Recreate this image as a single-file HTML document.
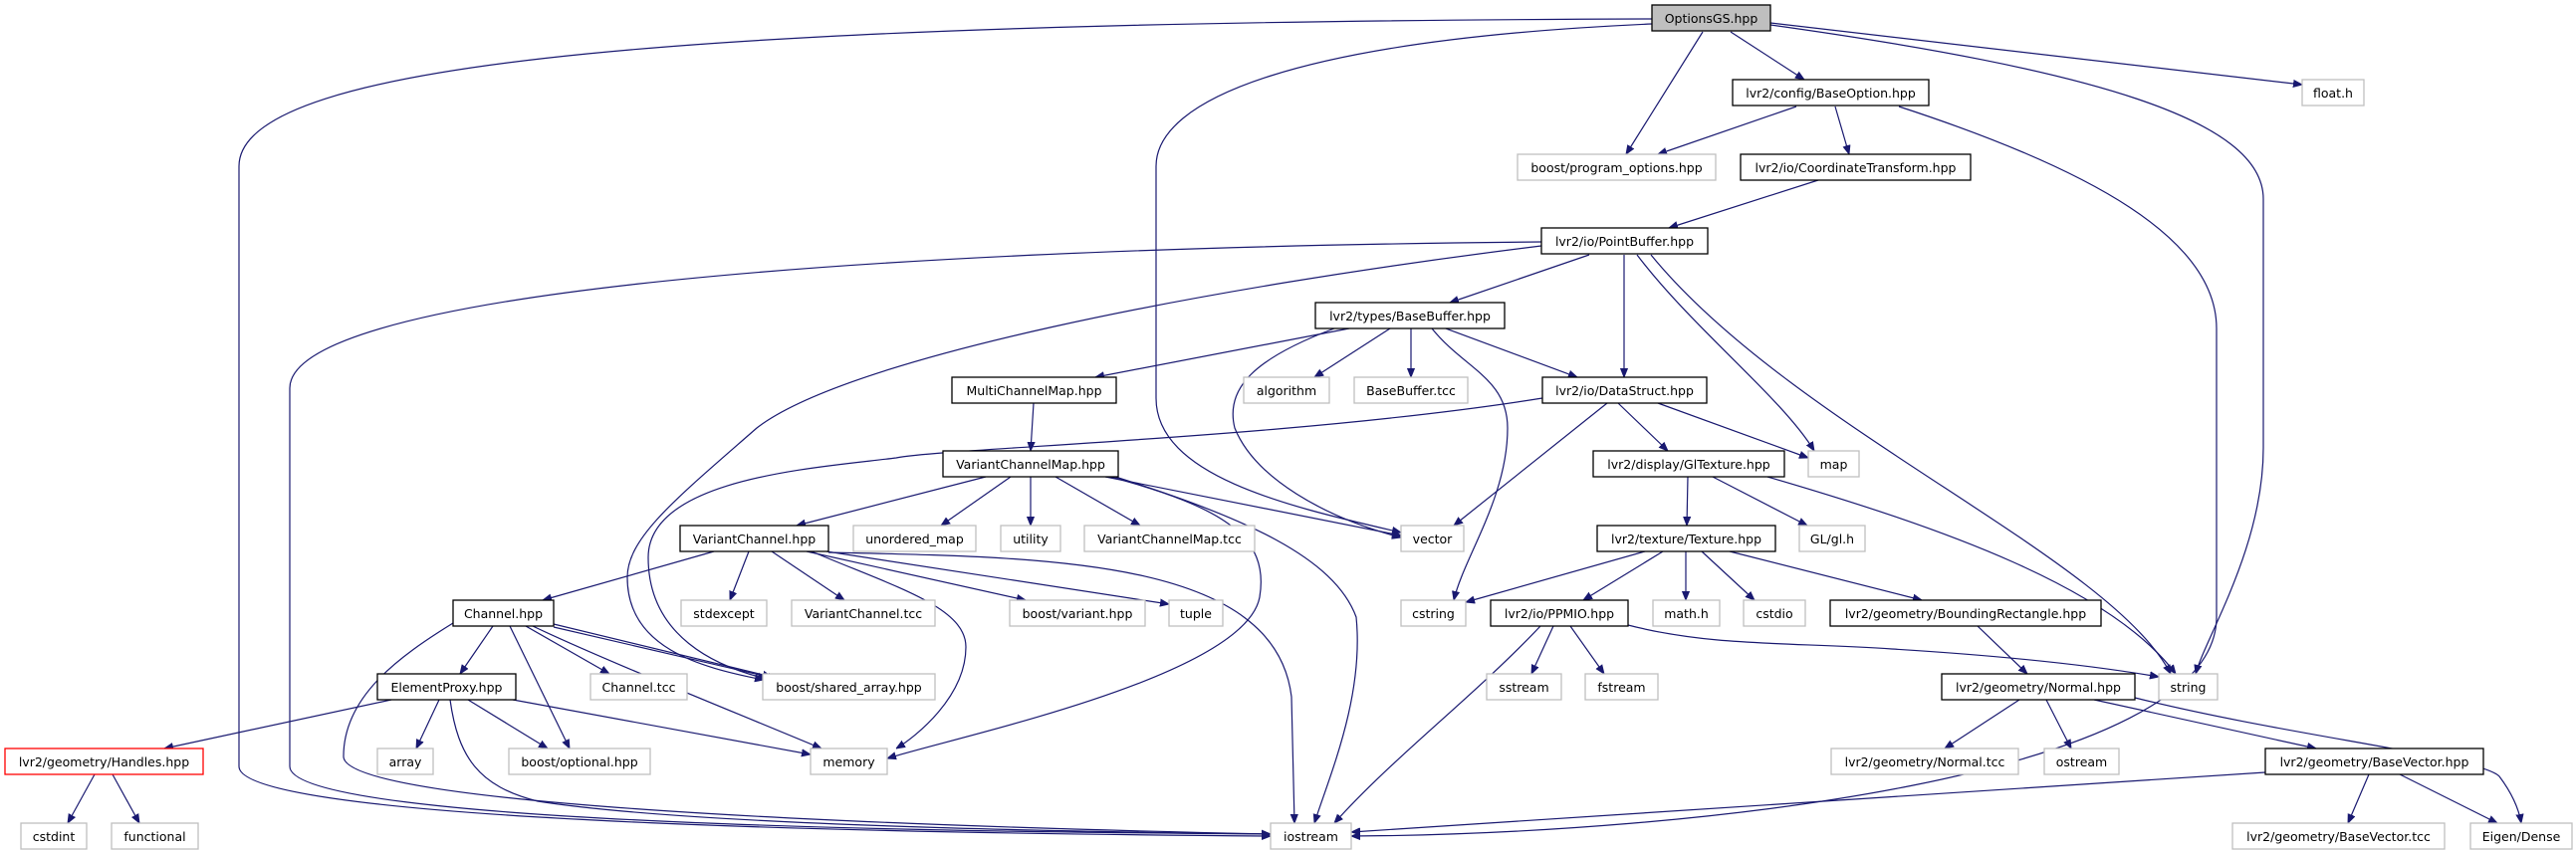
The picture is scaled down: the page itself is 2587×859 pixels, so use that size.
<!DOCTYPE html>
<html><head><meta charset="utf-8"><style>
html,body{margin:0;padding:0;background:#fff;}
svg{display:block;}
text{font-family:"DejaVu Sans","Liberation Sans",sans-serif;font-size:12.5px;fill:#000;}
.n{fill:#fff;stroke:#000;stroke-width:1.3;}
.g{fill:#fff;stroke:#bfbfbf;stroke-width:1.3;}
.e{fill:none;stroke:#191970;stroke-width:1.2;}
</style></head><body>
<svg width="2587" height="859" viewBox="0 0 2587 859" xmlns="http://www.w3.org/2000/svg">
<defs><marker id="a" viewBox="0 0 10 10" refX="10" refY="5" markerWidth="9" markerHeight="9" markerUnits="userSpaceOnUse" orient="auto"><path d="M0,1 L10,5 L0,9 z" fill="#191970" stroke="#191970"/></marker></defs>
<g class="e" marker-end="url(#a)">
<path d="M1659,19 C700,22 240,60 240,167 L240,770 C240,830 1000,838 1276,840"/>
<path d="M1659,24 C1300,40 1161,100 1161,167 L1161,400 C1161,480 1300,510 1407,535"/>
<path d="M1710,32 L1633,155"/>
<path d="M1738,32 L1812,80"/>
<path d="M1778,23 L2312,85"/>
<path d="M1778,25 C2100,70 2273,120 2273,200 L2273,450 C2273,550 2215,640 2205,677"/>
<path d="M1804,107 L1665,155"/>
<path d="M1843,107 L1857,155"/>
<path d="M1907,107 C2100,170 2226,240 2226,330 L2226,620 C2226,780 1700,838 1357,840"/>
<path d="M1826,181 L1676,229"/>
<path d="M1548,243 C800,250 291,300 291,390 L291,770 C291,830 1000,836 1276,838"/>
<path d="M1548,247 C1200,290 850,360 760,430 C680,500 630,540 630,580 C630,650 700,670 767,683"/>
<path d="M1549,400 C1300,440 950,450 900,460 C820,470 651,480 651,560 C651,640 720,670 770,682"/>
<path d="M1596,256 L1456,304"/>
<path d="M1631,256 L1631,379"/>
<path d="M1644,256 C1700,330 1790,400 1822,453"/>
<path d="M1658,256 C1800,430 2120,560 2180,677"/>
<path d="M1355,330 L1100,379"/>
<path d="M1396,330 L1320,379"/>
<path d="M1417,330 L1417,379"/>
<path d="M1452,330 L1584,379"/>
<path d="M1340,330 C1260,360 1230,390 1240,430 C1260,480 1330,520 1407,540"/>
<path d="M1438,330 C1470,370 1514,380 1514,430 C1514,500 1470,560 1460,603"/>
<path d="M1614,405 L1460,528"/>
<path d="M1625,405 L1675,453"/>
<path d="M1665,405 L1816,460"/>
<path d="M1038,405 L1035,453"/>
<path d="M990,479 L800,528"/>
<path d="M1015,479 L945,528"/>
<path d="M1035,479 L1035,528"/>
<path d="M1060,479 L1145,528"/>
<path d="M1110,479 L1407,538"/>
<path d="M1115,479 C1230,510 1275,540 1265,600 C1250,680 960,740 891,762"/>
<path d="M1120,479 C1250,520 1340,560 1362,620 C1370,700 1335,780 1320,827"/>
<path d="M832,555 C1050,560 1280,560 1297,700 L1300,827"/>
<path d="M717,554 L545,603"/>
<path d="M752,554 L733,603"/>
<path d="M775,554 L848,603"/>
<path d="M810,554 L1030,603"/>
<path d="M830,554 L1174,607"/>
<path d="M815,554 C900,590 970,610 970,650 C970,700 920,740 900,752"/>
<path d="M495,629 L462,677"/>
<path d="M528,629 L612,677"/>
<path d="M512,629 L572,752"/>
<path d="M535,629 C600,660 700,700 825,752"/>
<path d="M556,627 L775,680"/>
<path d="M556,630 L780,682"/>
<path d="M455,626 C400,660 345,700 345,760 C345,810 900,830 1276,838"/>
<path d="M393,703 L165,752"/>
<path d="M441,703 L418,752"/>
<path d="M470,703 L550,752"/>
<path d="M515,703 L814,758"/>
<path d="M452,703 C460,760 480,790 540,805 C700,830 1100,836 1276,838"/>
<path d="M95,778 L68,827"/>
<path d="M113,778 L140,827"/>
<path d="M1695,479 L1694,528"/>
<path d="M1720,479 L1815,528"/>
<path d="M1775,479 C1950,530 2120,590 2185,677"/>
<path d="M1652,554 L1472,605"/>
<path d="M1670,554 L1590,603"/>
<path d="M1693,554 L1693,603"/>
<path d="M1709,554 L1762,603"/>
<path d="M1737,554 L1930,603"/>
<path d="M1560,629 L1538,677"/>
<path d="M1577,629 L1611,677"/>
<path d="M1547,629 C1480,700 1400,760 1340,827"/>
<path d="M1635,628 C1720,650 1800,645 1900,652 C2030,660 2110,670 2168,680"/>
<path d="M1986,629 L2036,677"/>
<path d="M2028,703 L1953,752"/>
<path d="M2055,703 L2080,752"/>
<path d="M2103,703 L2326,752"/>
<path d="M2144,701 C2300,740 2490,760 2510,780 C2525,800 2530,815 2532,827"/>
<path d="M2275,776 L1357,836"/>
<path d="M2379,778 L2358,827"/>
<path d="M2410,778 L2508,827"/>
</g>
<g>
<rect x="1659" y="5" width="119" height="26" fill="#bfbfbf" stroke="#000" stroke-width="1.3"/><text x="1718.5" y="23" text-anchor="middle">OptionsGS.hpp</text>
<rect class="n" x="1740" y="80" width="197" height="26"/><text x="1838.5" y="98" text-anchor="middle">lvr2/config/BaseOption.hpp</text>
<rect class="g" x="2312" y="80" width="62" height="26"/><text x="2343" y="98" text-anchor="middle">float.h</text>
<rect class="g" x="1524" y="155" width="199" height="26"/><text x="1623.5" y="173" text-anchor="middle">boost/program_options.hpp</text>
<rect class="n" x="1748" y="155" width="231" height="26"/><text x="1863.5" y="173" text-anchor="middle">lvr2/io/CoordinateTransform.hpp</text>
<rect class="n" x="1548" y="229" width="167" height="26"/><text x="1631.5" y="247" text-anchor="middle">lvr2/io/PointBuffer.hpp</text>
<rect class="n" x="1321" y="304" width="190" height="26"/><text x="1416" y="322" text-anchor="middle">lvr2/types/BaseBuffer.hpp</text>
<rect class="n" x="956" y="379" width="165" height="26"/><text x="1038.5" y="397" text-anchor="middle">MultiChannelMap.hpp</text>
<rect class="g" x="1249" y="379" width="86" height="26"/><text x="1292" y="397" text-anchor="middle">algorithm</text>
<rect class="g" x="1360" y="379" width="114" height="26"/><text x="1417" y="397" text-anchor="middle">BaseBuffer.tcc</text>
<rect class="n" x="1549" y="379" width="165" height="26"/><text x="1631.5" y="397" text-anchor="middle">lvr2/io/DataStruct.hpp</text>
<rect class="n" x="947" y="453" width="176" height="26"/><text x="1035" y="471" text-anchor="middle">VariantChannelMap.hpp</text>
<rect class="n" x="1600" y="453" width="192" height="26"/><text x="1696" y="471" text-anchor="middle">lvr2/display/GlTexture.hpp</text>
<rect class="g" x="1816" y="453" width="51" height="26"/><text x="1841.5" y="471" text-anchor="middle">map</text>
<rect class="n" x="683" y="528" width="149" height="26"/><text x="757.5" y="546" text-anchor="middle">VariantChannel.hpp</text>
<rect class="g" x="857" y="528" width="123" height="26"/><text x="918.5" y="546" text-anchor="middle">unordered_map</text>
<rect class="g" x="1005" y="528" width="60" height="26"/><text x="1035" y="546" text-anchor="middle">utility</text>
<rect class="g" x="1089" y="528" width="171" height="26"/><text x="1174.5" y="546" text-anchor="middle">VariantChannelMap.tcc</text>
<rect class="g" x="1407" y="528" width="63" height="26"/><text x="1438.5" y="546" text-anchor="middle">vector</text>
<rect class="n" x="1604" y="528" width="179" height="26"/><text x="1693.5" y="546" text-anchor="middle">lvr2/texture/Texture.hpp</text>
<rect class="g" x="1807" y="528" width="66" height="26"/><text x="1840" y="546" text-anchor="middle">GL/gl.h</text>
<rect class="n" x="455" y="603" width="101" height="26"/><text x="505.5" y="621" text-anchor="middle">Channel.hpp</text>
<rect class="g" x="684" y="603" width="86" height="26"/><text x="727" y="621" text-anchor="middle">stdexcept</text>
<rect class="g" x="795" y="603" width="144" height="26"/><text x="867" y="621" text-anchor="middle">VariantChannel.tcc</text>
<rect class="g" x="1014" y="603" width="136" height="26"/><text x="1082" y="621" text-anchor="middle">boost/variant.hpp</text>
<rect class="g" x="1174" y="603" width="54" height="26"/><text x="1201" y="621" text-anchor="middle">tuple</text>
<rect class="g" x="1407" y="603" width="65" height="26"/><text x="1439.5" y="621" text-anchor="middle">cstring</text>
<rect class="n" x="1497" y="603" width="138" height="26"/><text x="1566" y="621" text-anchor="middle">lvr2/io/PPMIO.hpp</text>
<rect class="g" x="1660" y="603" width="67" height="26"/><text x="1693.5" y="621" text-anchor="middle">math.h</text>
<rect class="g" x="1751" y="603" width="62" height="26"/><text x="1782" y="621" text-anchor="middle">cstdio</text>
<rect class="n" x="1838" y="603" width="272" height="26"/><text x="1974" y="621" text-anchor="middle">lvr2/geometry/BoundingRectangle.hpp</text>
<rect class="n" x="379" y="677" width="139" height="26"/><text x="448.5" y="695" text-anchor="middle">ElementProxy.hpp</text>
<rect class="g" x="593" y="677" width="97" height="26"/><text x="641.5" y="695" text-anchor="middle">Channel.tcc</text>
<rect class="g" x="766" y="677" width="173" height="26"/><text x="852.5" y="695" text-anchor="middle">boost/shared_array.hpp</text>
<rect class="g" x="1493" y="677" width="75" height="26"/><text x="1530.5" y="695" text-anchor="middle">sstream</text>
<rect class="g" x="1592" y="677" width="73" height="26"/><text x="1628.5" y="695" text-anchor="middle">fstream</text>
<rect class="n" x="1950" y="677" width="194" height="26"/><text x="2047" y="695" text-anchor="middle">lvr2/geometry/Normal.hpp</text>
<rect class="g" x="2168" y="677" width="59" height="26"/><text x="2197.5" y="695" text-anchor="middle">string</text>
<rect x="5" y="752" width="199" height="26" fill="#fff" stroke="#ff0000" stroke-width="1.3"/><text x="104.5" y="770" text-anchor="middle">lvr2/geometry/Handles.hpp</text>
<rect class="g" x="379" y="752" width="56" height="26"/><text x="407" y="770" text-anchor="middle">array</text>
<rect class="g" x="511" y="752" width="142" height="26"/><text x="582" y="770" text-anchor="middle">boost/optional.hpp</text>
<rect class="g" x="814" y="752" width="77" height="26"/><text x="852.5" y="770" text-anchor="middle">memory</text>
<rect class="g" x="1839" y="752" width="188" height="26"/><text x="1933" y="770" text-anchor="middle">lvr2/geometry/Normal.tcc</text>
<rect class="g" x="2053" y="752" width="75" height="26"/><text x="2090.5" y="770" text-anchor="middle">ostream</text>
<rect class="n" x="2275" y="752" width="219" height="26"/><text x="2384.5" y="770" text-anchor="middle">lvr2/geometry/BaseVector.hpp</text>
<rect class="g" x="21" y="827" width="66" height="26"/><text x="54" y="845" text-anchor="middle">cstdint</text>
<rect class="g" x="112" y="827" width="87" height="26"/><text x="155.5" y="845" text-anchor="middle">functional</text>
<rect class="g" x="1276" y="827" width="81" height="26"/><text x="1316.5" y="845" text-anchor="middle">iostream</text>
<rect class="g" x="2242" y="827" width="213" height="26"/><text x="2348.5" y="845" text-anchor="middle">lvr2/geometry/BaseVector.tcc</text>
<rect class="g" x="2481" y="827" width="102" height="26"/><text x="2532" y="845" text-anchor="middle">Eigen/Dense</text>
</g>
</svg>
</body></html>
